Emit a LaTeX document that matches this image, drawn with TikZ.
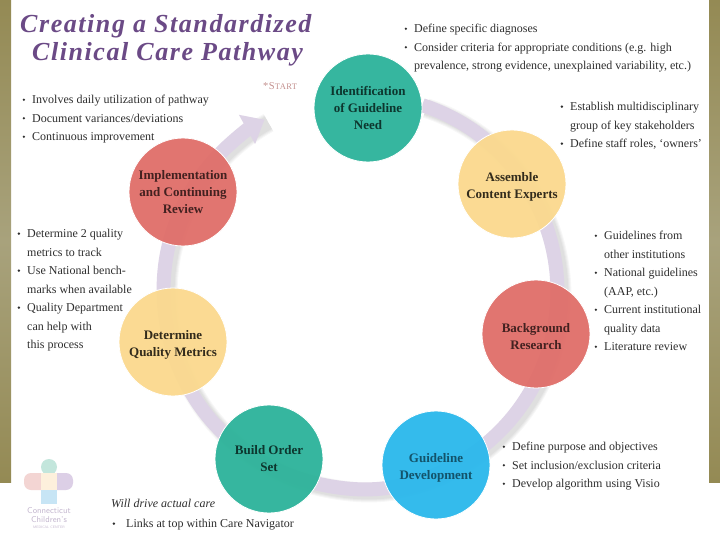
\documentclass[tikz,border=0pt]{standalone}
\usepackage{fontspec}
\setmainfont{Liberation Serif}
\usetikzlibrary{arrows.meta,backgrounds}
\definecolor{titlepurple}{HTML}{6B4A86}
\definecolor{bandol}{HTML}{948A54}
\definecolor{bandli}{HTML}{A8A27C}
\definecolor{ringc}{HTML}{DDD3E6}
\definecolor{teal}{HTML}{2CB39A}
\definecolor{yell}{HTML}{FBD98E}
\definecolor{redc}{HTML}{E06E69}
\definecolor{bluec}{HTML}{2AB8EC}
\definecolor{bodyc}{HTML}{2E2E2E}
\definecolor{logoa}{HTML}{C3E6DC}
\definecolor{logob}{HTML}{F3D5D3}
\definecolor{logoc}{HTML}{DCCFE6}
\definecolor{logod}{HTML}{FDF0DC}
\definecolor{logoe}{HTML}{C7E5F5}
\tikzset{
  x=1pt,y=-1pt,
  stage/.style={circle,minimum size=108pt,inner sep=0pt,draw=white,line width=.8pt,
    fill opacity=.95,text opacity=1,align=center,font=\fontsize{13}{17}\selectfont\bfseries},
  ring/.style={line width=14pt,draw=ringc,line join=round,looseness=.86},
  ringshadow/.style={line width=#1,draw=black,draw opacity=.03,line join=round,looseness=.86,transform canvas={shift={(4pt,-3pt)}}},
  note/.style={anchor=north west,inner sep=0pt,align=left,text=bodyc,font=\fontsize{12}{18.5}\selectfont},
  title/.style={anchor=west,inner sep=0pt,text=titlepurple,font=\fontsize{26}{30}\selectfont\bfseries\itshape\addfontfeatures{LetterSpace=6}},
  band/.style={top color=bandol,bottom color=bandol,middle color=bandli,draw=none},
}
\newcommand{\blt}{\makebox[0pt][r]{\raisebox{2.6pt}{\tikz\fill[bodyc] (0,0) circle (1.3pt);}\hspace{7pt}}}
\newcommand{\bltw}{\makebox[0pt][r]{\raisebox{2.6pt}{\tikz\fill[bodyc] (0,0) circle (1.3pt);}\hspace{11pt}}}
\newcommand{\dn}{\rule{0pt}{14pt}}
\newcommand{\ringpath}{(need.3.3)
  to[out=-18.3,in=141.3] (experts.122.3)
  to[out=-38.7,in=109.5] (experts.-51.4)
  to[out=-70.5,in=92.3] (research.67.4)
  to[out=-87.7,in=60.9] (research.-94.1)
  to[out=-119.1,in=39.6] (develop.23.1)
  to[out=-140.4,in=7.8] (develop.-155.8)
  to[out=-172.2,in=-12.7] (order.-27.8)
  to[out=-192.7,in=-44.5] (order.150.6)
  to[out=-224.5,in=-59.2] (metrics.-70.7)
  to[out=-239.2,in=-90.8] (metrics.100.7)
  to[out=-270.8,in=-104.1] (review.-105)
  to[out=-284.1,in=-134.9] (review.46)
  to[out=-314.9,in=-151] (tip)}
\begin{document}
\begin{tikzpicture}
\useasboundingbox (0,0) rectangle (720,540);

\node[stage,fill=teal,text=teal!30!black] (need) at (368,108) {Identification\\of Guideline\\Need};
\node[stage,fill=yell,text=yell!20!black] (experts) at (512,184) {\dn Assemble\\Content Experts};
\node[stage,fill=redc,text=redc!30!black] (research) at (536,334) {\dn Background\\Research};
\node[stage,fill=bluec,text=bluec!45!black] (develop) at (436,465) {\dn Guideline\\Development};
\node[stage,fill=teal,text=teal!30!black] (order) at (269,459) {Build Order\\Set};
\node[stage,fill=yell,text=yell!20!black] (metrics) at (173,342) {\rule{0pt}{15pt}Determine\\Quality Metrics};
\node[stage,fill=redc,text=redc!30!black] (review) at (183,192) {Implementation\\and Continuing\\Review};
\coordinate (tip) at (264.5,119.7);

\begin{scope}[on background layer]
  \fill[white] (0,0) rectangle (720,540);
  \shade[band] (0,0) rectangle (11,482);
  \shade[band] (709,0) rectangle (720,482);
  \foreach \w in {20pt,18pt,16pt,14pt}{
    \draw[ringshadow=\w] \ringpath;
  }
  \draw[ring,-{Triangle[length=20pt,width=32pt]}] \ringpath;
\end{scope}

\node[title] (t1) at (20,26) {Creating a Standardized};
\node[title] (t2) at (32,54) {Clinical Care Pathway};
\node[anchor=west,inner sep=0pt,text=redc!55!gray!80,font=\fontsize{10.5}{12}\selectfont\addfontfeatures{LetterSpace=5}] (start) at (263,86) {*S\fontsize{8.5}{12}\selectfont TART};

\node[note] (n1) at (32,95) {\blt Involves daily utilization of pathway\\\blt Document variances/deviations\\\blt Continuous improvement};
\node[note] (n2) at (414,24) {\blt Define specific diagnoses\\\blt Consider criteria for appropriate conditions (e.g. high\\prevalence, strong evidence, unexplained variability, etc.)};
\node[note] (n3) at (570,102) {\blt Establish multidisciplinary\\group of key stakeholders\\\blt Define staff roles, ‘owners’};
\node[note] (n4) at (604,231) {\blt Guidelines from\\other institutions\\\blt National guidelines\\(AAP, etc.)\\\blt Current institutional\\quality data\\\blt Literature review};
\node[note] (n5) at (512,442) {\blt Define purpose and objectives\\\blt Set inclusion/exclusion criteria\\\blt Develop algorithm using Visio};
\node[note] (n6) at (27,229) {\blt Determine 2 quality\\metrics to track\\\blt Use National bench-\\marks when available\\\blt Quality Department\\can help with\\this process};
\node[note,font=\fontsize{12}{20}\selectfont] (n7) at (111,499) {\textit{Will drive actual care}\\\hspace{15pt}\bltw Links at top within Care Navigator};

% logo
\fill[logoa] (49,467) circle (8);
\fill[logob,rounded corners=7pt] (24,473) rectangle (50,490);
\fill[logoc,rounded corners=7pt] (48,473) rectangle (73,490);
\fill[logod] (41,473) rectangle (57,490);
\fill[logoe] (41,490) rectangle (57,504);
\node[inner sep=0pt,align=center,text=titlepurple!40,font=\fontsize{8.5}{9}\selectfont\sffamily] (logo) at (49,515.5) {Connecticut\\Children's};
\node[inner sep=0pt,text=titlepurple!40,font=\fontsize{3.5}{4}\selectfont\sffamily\addfontfeatures{LetterSpace=15}] (logosub) at (49,527) {MEDICAL CENTER};
\end{tikzpicture}
\end{document}
